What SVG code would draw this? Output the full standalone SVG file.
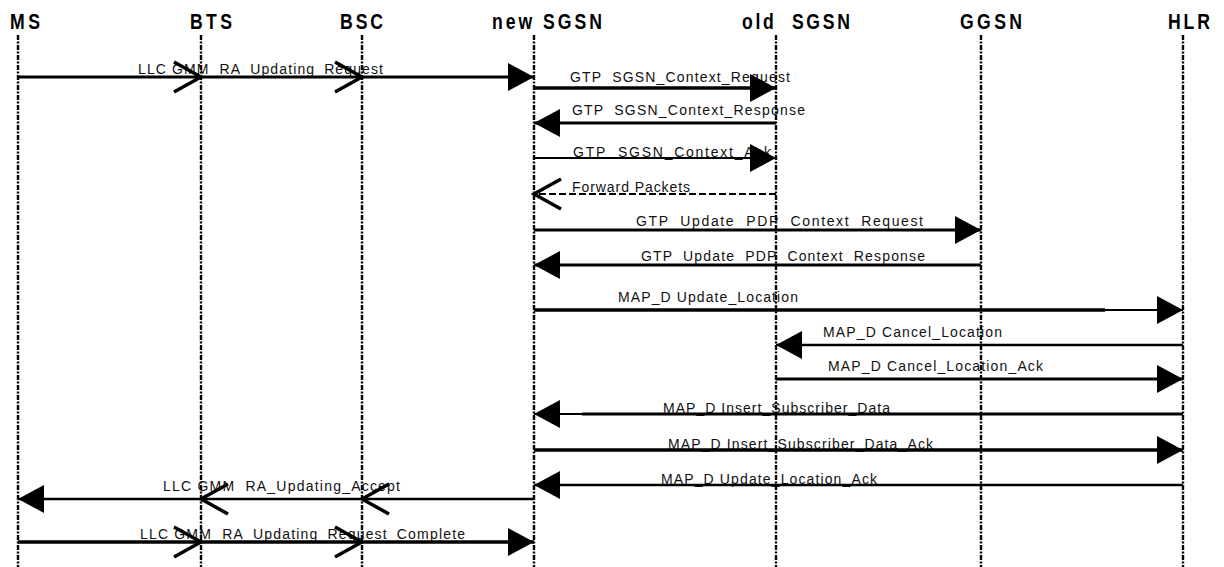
<svg xmlns="http://www.w3.org/2000/svg" width="1224" height="567" viewBox="0 0 1224 567">
<style>
.hdr{font-family:"Liberation Sans",Arial,sans-serif;font-weight:bold;font-size:22px;fill:#000;white-space:pre}
.life{stroke:#000;stroke-width:2.4;stroke-dasharray:5 1.5 2 1.5;fill:none}
.lbl{font-family:"Liberation Sans",Arial,sans-serif;font-size:14px;fill:#111;white-space:pre}
.msg{stroke:#000;fill:none}
</style>
<defs>
<marker id="fill" viewBox="0 0 26 28" refX="26" refY="14" markerWidth="26" markerHeight="28" markerUnits="userSpaceOnUse" orient="auto"><path d="M0,0 L26,14 L0,28 Z" fill="#000"/></marker>
<marker id="open" viewBox="-2 -2 32 34" refX="27" refY="15" markerWidth="32" markerHeight="34" markerUnits="userSpaceOnUse" orient="auto"><path d="M0,0 L27,15 L0,30" fill="none" stroke="#000" stroke-width="3.5"/></marker>
</defs>
<rect width="1224" height="567" fill="#fff"/>
<g id="MS"><text class="hdr" transform="translate(10,29) scale(0.8,1)" x="0" y="0" textLength="37.5" lengthAdjust="spacing">MS</text><line class="life" x1="18" y1="35" x2="18" y2="567"/></g>
<g id="BTS"><text class="hdr" transform="translate(190,29) scale(0.8,1)" x="0" y="0" textLength="52.5" lengthAdjust="spacing">BTS</text><line class="life" x1="201" y1="35" x2="201" y2="567"/></g>
<g id="BSC"><text class="hdr" transform="translate(340,29) scale(0.8,1)" x="0" y="0" textLength="53.75" lengthAdjust="spacing">BSC</text><line class="life" x1="362" y1="35" x2="362" y2="567"/></g>
<g id="newSGSN"><text class="hdr" transform="translate(492,29) scale(0.8,1)" x="0" y="0" textLength="137.5" lengthAdjust="spacing" xml:space="preserve">new SGSN</text><line class="life" x1="534" y1="35" x2="534" y2="567"/></g>
<g id="oldSGSN"><text class="hdr" transform="translate(742,29) scale(0.8,1)" x="0" y="0" textLength="135" lengthAdjust="spacing" xml:space="preserve">old  SGSN</text><line class="life" x1="776" y1="35" x2="776" y2="567"/></g>
<g id="GGSN"><text class="hdr" transform="translate(960,29) scale(0.8,1)" x="0" y="0" textLength="77.5" lengthAdjust="spacing">GGSN</text><line class="life" x1="981" y1="35" x2="981" y2="567"/></g>
<g id="HLR"><text class="hdr" transform="translate(1168,29) scale(0.8,1)" x="0" y="0" textLength="52.5" lengthAdjust="spacing">HLR</text><line class="life" x1="1183" y1="35" x2="1183" y2="567"/></g>
<g id="connectors">
<text class="lbl" x="138" y="74" textLength="245" xml:space="preserve">LLC GMM  RA_Updating_Request</text>
<polyline class="msg" stroke-width="3" points="18,77 201,77 362,77 534,77" marker-mid="url(#open)" marker-end="url(#fill)"/>
<text class="lbl" x="570" y="82" textLength="220" xml:space="preserve">GTP  SGSN_Context_Request</text>
<line class="msg" stroke-width="3.5" x1="534" y1="88" x2="776" y2="88" marker-end="url(#fill)"/>
<text class="lbl" x="572" y="115" textLength="233" xml:space="preserve">GTP  SGSN_Context_Response</text>
<line class="msg" stroke-width="3" x1="776" y1="123" x2="534" y2="123" marker-end="url(#fill)"/>
<text class="lbl" x="573" y="157" textLength="198" xml:space="preserve">GTP  SGSN_Context_Ack</text>
<line class="msg" stroke-width="2" x1="534" y1="158" x2="776" y2="158" marker-end="url(#fill)"/>
<text class="lbl" x="572" y="192" textLength="118" xml:space="preserve">Forward Packets</text>
<line class="msg" stroke-width="2" stroke-dasharray="7 3" x1="776" y1="194" x2="534" y2="194" marker-end="url(#open)"/>
<text class="lbl" x="636" y="226" textLength="287" xml:space="preserve">GTP  Update  PDP  Context  Request</text>
<line class="msg" stroke-width="3" x1="534" y1="230" x2="981" y2="230" marker-end="url(#fill)"/>
<text class="lbl" x="641" y="261" textLength="284" xml:space="preserve">GTP  Update  PDP  Context  Response</text>
<line class="msg" stroke-width="3" x1="981" y1="265" x2="534" y2="265" marker-end="url(#fill)"/>
<text class="lbl" x="618" y="302" textLength="180" xml:space="preserve">MAP_D Update_Location</text>
<line class="msg" stroke-width="3.5" x1="534" y1="310" x2="1105" y2="310"/>
<line class="msg" stroke-width="2" x1="1105" y1="310" x2="1183" y2="310" marker-end="url(#fill)"/>
<text class="lbl" x="823" y="337" textLength="179" xml:space="preserve">MAP_D Cancel_Location</text>
<line class="msg" stroke-width="2.5" x1="1183" y1="345" x2="776" y2="345" marker-end="url(#fill)"/>
<text class="lbl" x="828" y="371" textLength="215" xml:space="preserve">MAP_D Cancel_Location_Ack</text>
<line class="msg" stroke-width="3" x1="776" y1="379" x2="1183" y2="379" marker-end="url(#fill)"/>
<text class="lbl" x="663" y="413" textLength="227" xml:space="preserve">MAP_D Insert_Subscriber_Data</text>
<line class="msg" stroke-width="3" x1="1183" y1="414" x2="582" y2="414"/>
<line class="msg" stroke-width="2" x1="582" y1="414" x2="534" y2="414" marker-end="url(#fill)"/>
<text class="lbl" x="668" y="449" textLength="265" xml:space="preserve">MAP_D Insert_Subscriber_Data_Ack</text>
<line class="msg" stroke-width="3.5" x1="534" y1="450" x2="1183" y2="450" marker-end="url(#fill)"/>
<text class="lbl" x="661" y="484" textLength="216" xml:space="preserve">MAP_D Update_Location_Ack</text>
<line class="msg" stroke-width="2.5" x1="1183" y1="485" x2="534" y2="485" marker-end="url(#fill)"/>
<text class="lbl" x="163" y="491" textLength="237" xml:space="preserve">LLC GMM  RA_Updating_Accept</text>
<polyline class="msg" stroke-width="2.5" points="534,499 362,499 201,499 18,499" marker-mid="url(#open)" marker-end="url(#fill)"/>
<text class="lbl" x="140" y="539" textLength="325" xml:space="preserve">LLC GMM  RA_Updating_Request_Complete</text>
<polyline class="msg" stroke-width="3.5" points="18,542 201,542 362,542 534,542" marker-mid="url(#open)" marker-end="url(#fill)"/>
</g>
</svg>
